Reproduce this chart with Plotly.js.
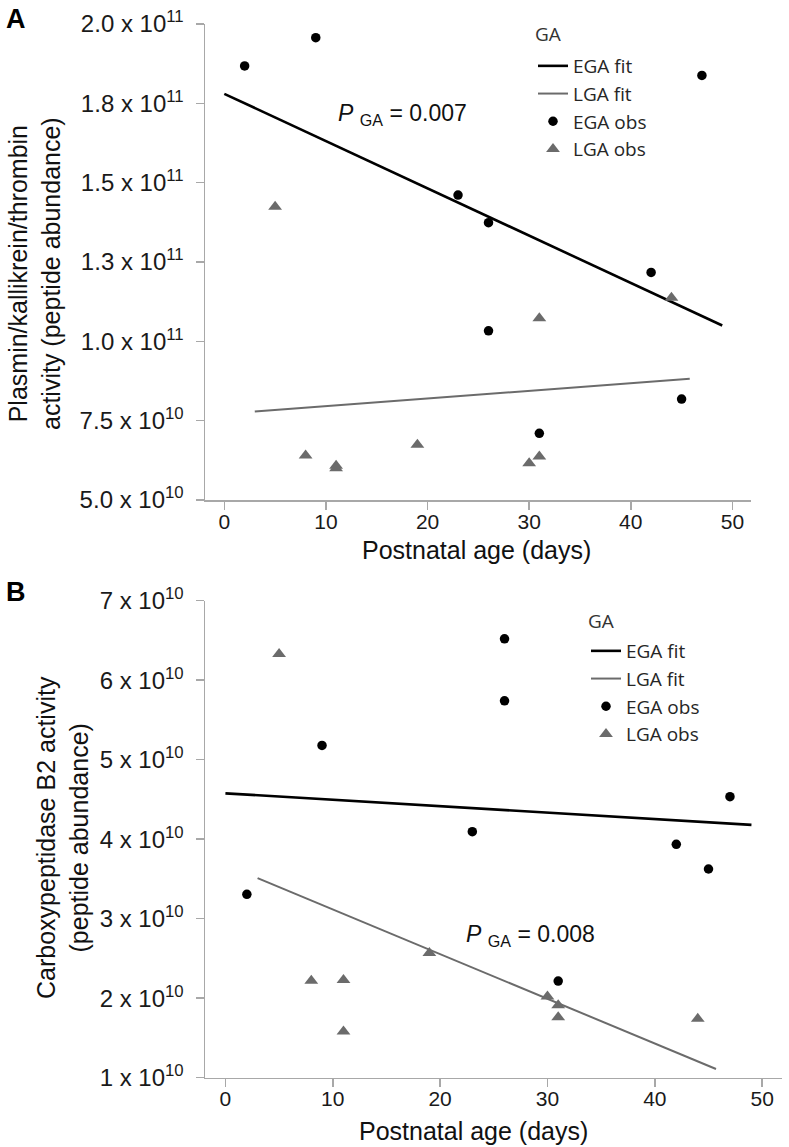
<!DOCTYPE html>
<html>
<head>
<meta charset="utf-8">
<script src="https://cdn.plot.ly/plotly-3.0.1.min.js"></script>
<style>html,body{margin:0;padding:0;background:#fff;}#chart{width:789px;height:1147px;}</style>
</head>
<body>
<div id="chart"></div>
<script>
// ---------- Data ----------
const daysEGA = [2, 9, 23, 26, 26, 31, 42, 45, 47];
const daysLGA = [5, 8, 11, 11, 19, 30, 31, 31, 44];

// Panel A: Plasmin/kallikrein/thrombin activity
const plasminEGA = [1.868e11, 1.957e11, 1.461e11, 1.374e11, 1.033e11, 7.1e10, 1.217e11, 8.18e10, 1.838e11];
const plasminLGA = [1.424e11, 6.4e10, 6.0e10, 6.08e10, 6.74e10, 6.16e10, 6.37e10, 1.073e11, 1.137e11];
const fitA_EGA_x = [0, 49];
const fitA_EGA_y = [1.78e11, 1.05e11];
const fitA_LGA_x = [3, 45.8];
const fitA_LGA_y = [7.79e10, 8.82e10];

// Panel B: Carboxypeptidase B2 activity
const cpb2EGA = [3.307e10, 5.18e10, 4.094e10, 6.52e10, 5.74e10, 2.216e10, 3.936e10, 3.625e10, 4.535e10];
const cpb2LGA = [6.33e10, 2.22e10, 2.23e10, 1.58e10, 2.57e10, 2.02e10, 1.91e10, 1.76e10, 1.74e10];
const fitB_EGA_x = [0, 49];
const fitB_EGA_y = [4.577e10, 4.18e10];
const fitB_LGA_x = [3, 45.7];
const fitB_LGA_y = [3.51e10, 1.11e10];

// Ticks
const xTicks = [0, 10, 20, 30, 40, 50];
const yTicksA = [5e10, 7.5e10, 1e11, 1.25e11, 1.5e11, 1.75e11, 2e11];
const yTextA = ["5.0 x 10<sup>10</sup>", "7.5 x 10<sup>10</sup>", "1.0 x 10<sup>11</sup>", "1.3 x 10<sup>11</sup>",
                "1.5 x 10<sup>11</sup>", "1.8 x 10<sup>11</sup>", "2.0 x 10<sup>11</sup>"];
const yTicksB = [1e10, 2e10, 3e10, 4e10, 5e10, 6e10, 7e10];
const yTextB = ["1 x 10<sup>10</sup>", "2 x 10<sup>10</sup>", "3 x 10<sup>10</sup>", "4 x 10<sup>10</sup>",
                "5 x 10<sup>10</sup>", "6 x 10<sup>10</sup>", "7 x 10<sup>10</sup>"];

// ---------- Styling ----------
const W = 789, H = 1147;
const px = v => v / W;
const py = v => 1 - v / H;
const BLACK = '#000000';
const GREY = '#6b6b6b';
const AXIS = '#a8a8a8';
const FONT = 'Liberation Sans, Arial, sans-serif';
const LEGFONT = 'Open Sans, Noto Sans, sans-serif';

function lineTrace(x, y, name, color, width, xa, ya, leg) {
  return {x: x, y: y, name: name, mode: 'lines', type: 'scatter',
          line: {color: color, width: width}, xaxis: xa, yaxis: ya, legend: leg};
}
function markerTrace(x, y, name, color, symbol, size, xa, ya, leg) {
  return {x: x, y: y, name: name, mode: 'markers', type: 'scatter',
          marker: {color: color, symbol: symbol, size: size, line: {width: 0}},
          xaxis: xa, yaxis: ya, legend: leg, cliponaxis: false};
}

const traces = [
  lineTrace(fitA_EGA_x, fitA_EGA_y, 'EGA fit', BLACK, 2.6, 'x', 'y', 'legend'),
  lineTrace(fitA_LGA_x, fitA_LGA_y, 'LGA fit', GREY, 2, 'x', 'y', 'legend'),
  markerTrace(daysEGA, plasminEGA, 'EGA obs', BLACK, 'circle', 9.5, 'x', 'y', 'legend'),
  markerTrace(daysLGA, plasminLGA, 'LGA obs', GREY, 'triangle-up', 12, 'x', 'y', 'legend'),
  lineTrace(fitB_EGA_x, fitB_EGA_y, 'EGA fit', BLACK, 2.6, 'x2', 'y2', 'legend2'),
  lineTrace(fitB_LGA_x, fitB_LGA_y, 'LGA fit', GREY, 2, 'x2', 'y2', 'legend2'),
  markerTrace(daysEGA, cpb2EGA, 'EGA obs', BLACK, 'circle', 9.5, 'x2', 'y2', 'legend2'),
  markerTrace(daysLGA, cpb2LGA, 'LGA obs', GREY, 'triangle-up', 12, 'x2', 'y2', 'legend2')
];

function xAxis(domain, anchor) {
  return {domain: domain, anchor: anchor, range: [-1.9, 51.8], showgrid: false, zeroline: false,
          showline: true, linecolor: AXIS, linewidth: 1.5, ticks: 'outside', ticklen: 8,
          tickcolor: AXIS, tickwidth: 1.5, tickvals: xTicks, ticklabelstandoff: -6,
          tickfont: {family: FONT, size: 21, color: '#1a1a1a'}, fixedrange: true};
}
function yAxis(domain, anchor, range, vals, text) {
  return {domain: domain, anchor: anchor, range: range, showgrid: false, zeroline: false,
          showline: true, linecolor: AXIS, linewidth: 1.5, ticks: 'outside', ticklen: 8,
          tickcolor: AXIS, tickwidth: 1.5, tickvals: vals, ticktext: text, ticklabelstandoff: 7,
          tickfont: {family: FONT, size: 24, color: '#1a1a1a'}, fixedrange: true};
}

function legendCfg(x, yTop) {
  return {x: px(x), y: py(yTop), xanchor: 'left', yanchor: 'top', bgcolor: 'rgba(0,0,0,0)',
          borderwidth: 0, font: {family: LEGFONT, size: 19, color: '#262626'},
          traceorder: 'normal', tracegroupgap: 0};
}

const annFont = {family: FONT, size: 23, color: '#111111'};
const legTitleFont = {family: LEGFONT, size: 19, color: '#333333'};
const annotations = [
  {text: '<b>A</b>', x: px(4), y: py(19), xref: 'paper', yref: 'paper', xanchor: 'left', yanchor: 'middle',
   showarrow: false, font: {family: FONT, size: 27, color: '#000'}},
  {text: '<b>B</b>', x: px(4), y: py(592), xref: 'paper', yref: 'paper', xanchor: 'left', yanchor: 'middle',
   showarrow: false, font: {family: FONT, size: 27, color: '#000'}},
  {text: 'GA', x: px(533), y: py(34), xref: 'paper', yref: 'paper', xanchor: 'left', yanchor: 'middle',
   showarrow: false, font: legTitleFont},
  {text: 'GA', x: px(586), y: py(621), xref: 'paper', yref: 'paper', xanchor: 'left', yanchor: 'middle',
   showarrow: false, font: legTitleFont},
  {text: '<i>P</i> <sub>GA</sub> = 0.007', x: px(336), y: py(114), xref: 'paper', yref: 'paper',
   xanchor: 'left', yanchor: 'middle', showarrow: false, font: annFont},
  {text: '<i>P</i> <sub>GA</sub> = 0.008', x: px(464), y: py(935), xref: 'paper', yref: 'paper',
   xanchor: 'left', yanchor: 'middle', showarrow: false, font: annFont},
  {text: 'Postnatal age (days)', x: px(476), y: py(550), xref: 'paper', yref: 'paper',
   xanchor: 'center', yanchor: 'middle', showarrow: false, font: {family: FONT, size: 25, color: '#111'}},
  {text: 'Postnatal age (days)', x: px(473), y: py(1131), xref: 'paper', yref: 'paper',
   xanchor: 'center', yanchor: 'middle', showarrow: false, font: {family: FONT, size: 25, color: '#111'}},
  {text: 'Plasmin/kallikrein/thrombin<br>activity (peptide abundance)', x: px(35), y: py(274),
   xref: 'paper', yref: 'paper', xanchor: 'center', yanchor: 'middle', textangle: -90, showarrow: false,
   font: {family: FONT, size: 25, color: '#111'}},
  {text: 'Carboxypeptidase B2 activity<br>(peptide abundance)', x: px(62), y: py(838),
   xref: 'paper', yref: 'paper', xanchor: 'center', yanchor: 'middle', textangle: -90, showarrow: false,
   font: {family: FONT, size: 25, color: '#111'}}
];

const layout = {
  width: W, height: H,
  margin: {l: 0, r: 0, t: 0, b: 0},
  paper_bgcolor: '#ffffff', plot_bgcolor: '#ffffff',
  font: {family: FONT, color: '#111'},
  showlegend: true,
  xaxis: xAxis([px(205), px(750.7)], 'y'),
  yaxis: yAxis([py(500), py(24)], 'x', [5e10, 2e11], yTicksA, yTextA),
  xaxis2: xAxis([px(205), px(781.5)], 'y2'),
  yaxis2: yAxis([py(1077.7), py(600.7)], 'x2', [1e10, 7e10], yTicksB, yTextB),
  legend: legendCfg(533, 47),
  legend2: legendCfg(586, 632),
  annotations: annotations
};

Plotly.newPlot('chart', traces, layout, {displayModeBar: false, staticPlot: true});
</script>
</body>
</html>
